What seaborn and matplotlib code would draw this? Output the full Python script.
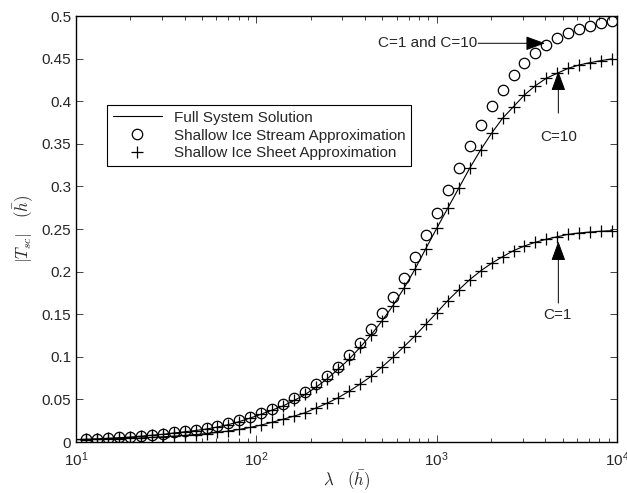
import matplotlib
matplotlib.use('Agg')
import matplotlib.pyplot as plt
import seaborn as sns
import pandas as pd

# wavelength values (marker positions)
lam = [11.35, 13.06, 15.02, 17.28, 19.87, 22.86, 26.29, 30.24, 34.78, 40.01,
       46.03, 52.94, 60.90, 70.05, 80.58, 92.68, 106.6, 122.6, 141.1, 162.3,
       186.6, 214.7, 247.0, 284.1, 326.8, 375.8, 432.3, 497.3, 572.0, 658.0,
       756.8, 870.6, 1001.4, 1151.9, 1325.0, 1524.2, 1753.3, 2016.8, 2319.9, 2668.6,
       3069.6, 3531.0, 4061.7, 4672.1, 5374.3, 6182.0, 7111.1, 8179.8, 9405.2]

# shallow ice stream approximation (C=1 and C=10 coincide)
ssa = [0.0035, 0.0039, 0.0047, 0.0055, 0.0062, 0.0074, 0.0086, 0.0097, 0.0114, 0.0129,
       0.0144, 0.0164, 0.0188, 0.0220, 0.0255, 0.0297, 0.0337, 0.0391, 0.0446, 0.0517,
       0.0591, 0.0677, 0.0775, 0.0884, 0.1018, 0.1166, 0.1323, 0.1511, 0.1706, 0.1929,
       0.2175, 0.2430, 0.2690, 0.2962, 0.3220, 0.3475, 0.3722, 0.3948, 0.4136, 0.4308,
       0.4447, 0.4570, 0.4661, 0.4739, 0.4798, 0.4845, 0.4884, 0.4916, 0.4943]

# shallow ice sheet approximation, C=10
sia_c10 = [0.0033, 0.0037, 0.0044, 0.0051, 0.0058, 0.0068, 0.0080, 0.0090, 0.0106, 0.0120,
           0.0135, 0.0153, 0.0176, 0.0205, 0.0240, 0.0282, 0.0327, 0.0375, 0.0425, 0.0488,
           0.0558, 0.0645, 0.0740, 0.0855, 0.0971, 0.1110, 0.1256, 0.1421, 0.1600, 0.1804,
           0.2025, 0.2270, 0.2509, 0.2744, 0.2978, 0.3213, 0.3428, 0.3624, 0.3800, 0.3936,
           0.4074, 0.4183, 0.4270, 0.4329, 0.4387, 0.4426, 0.4453, 0.4477, 0.4497]

# shallow ice sheet approximation, C=1
sia_c1 = [0.0028, 0.0031, 0.0035, 0.0039, 0.0043, 0.0048, 0.0054, 0.0061, 0.0068, 0.0077,
          0.0087, 0.0099, 0.0113, 0.0129, 0.0148, 0.0172, 0.0200, 0.0232, 0.0268, 0.0305,
          0.0344, 0.0400, 0.0455, 0.0520, 0.0595, 0.0680, 0.0770, 0.0880, 0.0994, 0.1119,
          0.1244, 0.1382, 0.1518, 0.1659, 0.1785, 0.1905, 0.2008, 0.2098, 0.2175, 0.2246,
          0.2301, 0.2345, 0.2380, 0.2410, 0.2438, 0.2454, 0.2465, 0.2474, 0.2481]

# full system solution (line starts at lambda = 10)
full_lam = [10.0] + lam
full_c10 = [0.0030] + sia_c10
full_c1 = [0.0026] + sia_c1

yticks = [0, 0.05, 0.1, 0.15, 0.2, 0.25, 0.3, 0.35, 0.4, 0.45, 0.5]
ytick_labels = ['0', '0.05', '0.1', '0.15', '0.2', '0.25', '0.3', '0.35', '0.4', '0.45', '0.5']

sns.set_style('ticks')
plt.rcParams['font.family'] = ['Liberation Sans', 'DejaVu Sans']
plt.rcParams['mathtext.fontset'] = 'cm'
plt.rcParams['xtick.direction'] = 'in'
plt.rcParams['ytick.direction'] = 'in'

fig = plt.figure(figsize=(6.27, 4.93), dpi=100)
ax = fig.add_axes([0.1212, 0.1034, 0.8628, 0.8641])

lw = 0.8
sns.lineplot(x=full_lam, y=full_c10, ax=ax, color='k', lw=lw, sort=False, label='Full System Solution')
sns.lineplot(x=full_lam, y=full_c1, ax=ax, color='k', lw=lw, sort=False)
sns.lineplot(x=lam, y=ssa, ax=ax, color='k', linestyle='none', marker='o', markersize=7.5,
             markerfacecolor='none', markeredgecolor='k', markeredgewidth=0.9, sort=False,
             label='Shallow Ice Stream Approximation')
sns.lineplot(x=lam, y=sia_c10, ax=ax, color='k', linestyle='none', marker='+', markersize=8,
             markeredgecolor='k', markeredgewidth=0.9, sort=False,
             label='Shallow Ice Sheet Approximation')
sns.lineplot(x=lam, y=sia_c1, ax=ax, color='k', linestyle='none', marker='+', markersize=8,
             markeredgecolor='k', markeredgewidth=0.9, sort=False)

ax.set_xscale('log')
ax.set_xlim(10, 10000)
ax.set_ylim(0, 0.5)
ax.set_yticks(yticks)
ax.set_yticklabels(ytick_labels)
ax.tick_params(which='both', top=True, right=True, labelsize=11, width=0.6)
ax.tick_params(which='major', length=5)
ax.tick_params(which='minor', length=3)
ax.tick_params(axis='x', pad=6)
for s in ax.spines.values():
    s.set_linewidth(1.0)
    s.set_color('k')

ax.set_xlabel(r'$\lambda\quad(\bar{h})$', fontsize=12, labelpad=0)
ax.set_ylabel(r'$|T_{sc}|\quad(\bar{h})$', fontsize=12, labelpad=4)

leg = ax.legend(loc='upper left', bbox_to_anchor=(0.058, 0.79), fontsize=11, frameon=True,
                fancybox=False, edgecolor='k', framealpha=1, borderpad=0.35, labelspacing=0.25,
                handlelength=3.2, borderaxespad=0)
leg.get_frame().set_linewidth(0.8)

arrow = dict(arrowstyle='-|>,head_length=0.6,head_width=0.22', color='k', lw=0.7,
             mutation_scale=20, shrinkA=0, shrinkB=0)
ax.annotate('', xy=(3990, 0.468), xytext=(1700, 0.468), arrowprops=arrow)
ax.text(1680, 0.468, 'C=1 and C=10', ha='right', va='center', fontsize=11)
ax.annotate('', xy=(4730, 0.435), xytext=(4730, 0.386), arrowprops=arrow)
ax.text(4760, 0.358, 'C=10', ha='center', va='center', fontsize=11)
ax.annotate('', xy=(4730, 0.2355), xytext=(4730, 0.163), arrowprops=arrow)
ax.text(4700, 0.149, 'C=1', ha='center', va='center', fontsize=11)

plt.savefig('out.png', dpi=100)
